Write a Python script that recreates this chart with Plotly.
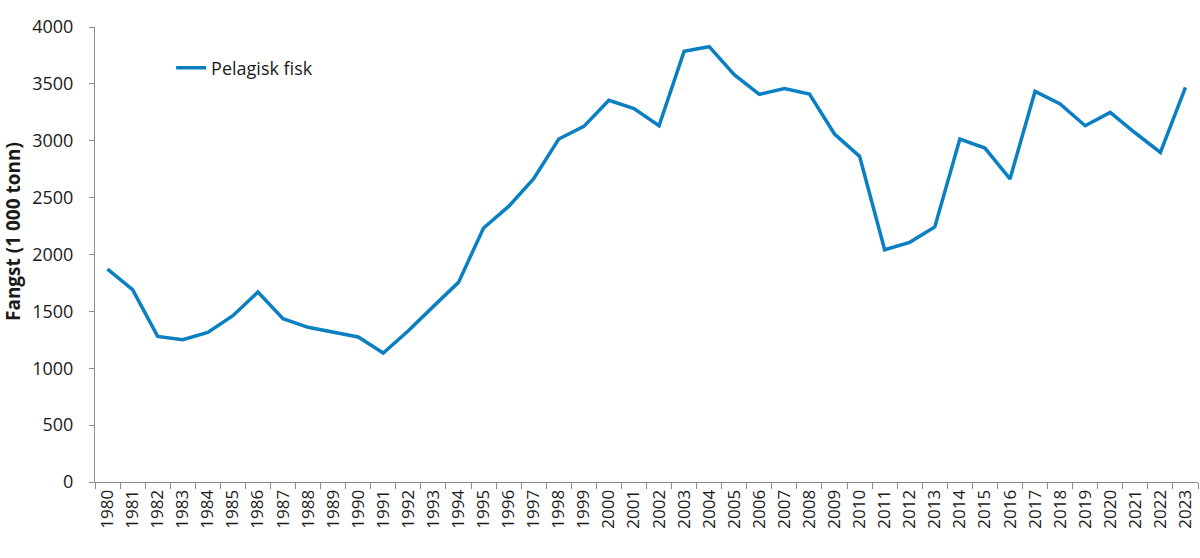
import plotly.graph_objects as go

years = [str(y) for y in range(1980, 2024)]
pelagisk_fisk = [1872, 1691, 1280, 1251, 1315, 1462, 1670, 1436, 1360, 1319,
                 1275, 1134, 1330, 1544, 1755, 2233, 2423, 2666, 3015, 3126,
                 3355, 3282, 3132, 3786, 3827, 3581, 3408, 3460, 3411, 3059,
                 2863, 2042, 2107, 2242, 3015, 2936, 2664, 3434, 3323, 3132,
                 3249, 3068, 2898, 3470]
y_ticks = [0, 500, 1000, 1500, 2000, 2500, 3000, 3500, 4000]

font_family = "Open Sans, Noto Sans, sans-serif"

fig = go.Figure()
fig.add_trace(go.Scatter(
    x=years, y=pelagisk_fisk, mode="lines", name="Pelagisk fisk",
    line=dict(color="#0a7fc2", width=3.5),
))

fig.update_layout(
    width=1200, height=558,
    margin=dict(l=95, r=2, t=27, b=76, autoexpand=False),
    paper_bgcolor="white", plot_bgcolor="white",
    font=dict(family=font_family, size=18, color="#1a1a1a"),
    showlegend=True,
    legend=dict(x=0.069, y=0.91, xanchor="left", yanchor="middle",
                bgcolor="rgba(0,0,0,0)", font=dict(size=18)),
)
fig.update_xaxes(
    type="category", range=[-0.5, 43.5], tickangle=-90,
    showline=True, linecolor="#8c8c8c", linewidth=1.2,
    ticks="outside", tickson="boundaries", ticklen=6, tickcolor="#8c8c8c",
    showgrid=False, tickfont=dict(size=17), automargin=False,
)
fig.update_yaxes(
    range=[0, 4000], tickvals=y_ticks,
    showline=True, linecolor="#8c8c8c", linewidth=1.2,
    ticks="outside", ticklen=5, tickcolor="#8c8c8c", ticklabelstandoff=12,
    showgrid=False, zeroline=False, tickfont=dict(size=18), automargin=False,
)

# y-axis title as an annotation so it sits where the reference has it
fig.add_annotation(
    text="<b>Fangst (1 000 tonn)</b>", textangle=-90,
    xref="paper", yref="paper", x=-0.075, y=0.55,
    xanchor="center", yanchor="middle", showarrow=False,
    font=dict(size=19),
)

fig.write_html("out.html", config={"displayModeBar": False},
               post_script="document.body.style.margin='0';")
